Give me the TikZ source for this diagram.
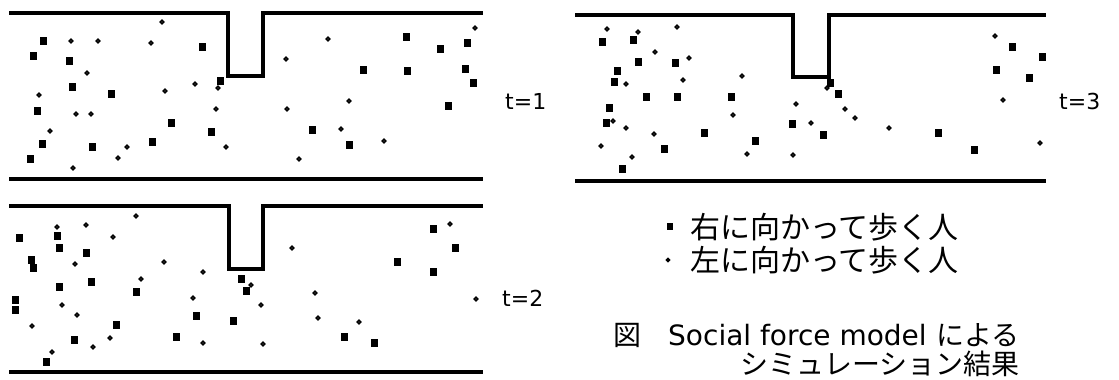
\documentclass[tikz,border=0pt]{standalone}
\usepackage{fontspec}
\newfontfamily\jpfont{Noto Sans CJK JP}
\newfontfamily\tfont{DejaVu Sans}
\usetikzlibrary{positioning}
\tikzset{
  figbase/.style={x=1pt, y=-1pt, line join=miter},
  wall/.style={draw=black, line width=3.2pt},
  rwalk/.style={fill=black},
  lwalk/.style={draw=black, line width=1.6pt},
  tlab/.style={font=\tfont\fontsize{22}{22}\selectfont, inner sep=0pt, anchor=west},
  leg/.style={font=\jpfont\fontsize{30}{30}\selectfont, inner sep=0pt, anchor=west},
  captext/.style={font=\jpfont\fontsize{28}{28}\selectfont, inner sep=0pt},
}

\begin{document}
\begin{tikzpicture}[figbase]
  \useasboundingbox (0,0) rectangle (1119,380);

  % corridors with the side room
  \draw[wall] (9,13) -- (228,13) -- (228,76) -- (263,76) -- (263,13) -- (483,13);
  \draw[wall] (9,179) -- (483,179);
  \draw[wall] (9,206) -- (229,206) -- (229,269) -- (263,269) -- (263,206) -- (483,206);
  \draw[wall] (9,372) -- (483,372);
  \draw[wall] (575,15) -- (793,15) -- (793,77) -- (829,77) -- (829,15) -- (1046,15);
  \draw[wall] (575,181) -- (1046,181);

  % people walking right
  \foreach \x/\y in {43/41,33/56,69/61,72/87,111/94,37/111,42/144,30/159,92/147,152/142,
      171/123,211/132,202/47,220/81,406/37,440/49,467/43,363/70,407/71,465/69,473/83,
      448/106,312/130,349/145,
      19/238,57/236,59/248,86/253,31/260,33/268,59/287,91/282,15/300,15/310,136/292,
      116/325,74/340,46/362,176/337,196/316,233/321,241/279,246/291,433/229,455/248,
      397/262,433/272,344/337,374/343,
      602/42,633/40,638/62,675/63,617/71,614/82,646/97,677/97,731/97,609/108,606/123,
      704/133,664/149,622/169,755/141,792/124,823/135,830/83,838/94,1012/47,1042/57,
      996/70,1029/78,938/133,974/150}
    \fill[rwalk] (\x-3.5,\y-4) rectangle (\x+3.5,\y+4);

  % people walking left
  \foreach \x/\y in {71/41,98/41,151/43,162/22,87/73,39/95,76/114,91/114,50/131,127/147,
      118/158,73/168,165/91,195/84,218/88,216/109,226/147,328/39,475/28,286/59,349/101,
      287/109,341/129,384/141,299/159,
      57/227,86/225,136/216,113/237,75/264,164/262,203/272,141/279,193/298,62/305,
      77/315,251/285,261/305,32/326,110/338,93/347,52/352,203/343,263/344,450/224,
      292/248,315/293,318/318,359/322,476/299,
      607/29,638/32,677/27,655/52,689/58,683/80,626/84,742/76,613/121,626/128,654/134,
      601/146,632/157,733/115,747/154,796/104,811/123,793/155,827/88,845/109,995/36,
      855/118,889/128,1003/100,1040/143}
    \draw[lwalk] (\x,\y) circle (1.8pt);

  % time labels
  \node[tlab] (t1) at (505,101) {t=1};
  \node[tlab] (t2) at (502,298) {t=2};
  \node[tlab] (t3) at (1059,101) {t=3};

  % legend
  \fill[rwalk] (667,223) rectangle (673,230);
  \draw[lwalk] (668,260) circle (1.4pt);
  \node[leg] (right) at (690,227) {右に向かって歩く人};
  \node[leg] (left) at (690,260) {左に向かって歩く人};

  % caption
  \node[captext, anchor=west] (fig) at (613,335) {図};
  \node[captext, anchor=west] (cap1) at (668,335)
    {{\tfont Social force model}\hspace{0.35em}による};
  \node[captext, anchor=east] (cap2) at (cap1.east |- 0,364) {シミュレーション結果};
\end{tikzpicture}
\end{document}
